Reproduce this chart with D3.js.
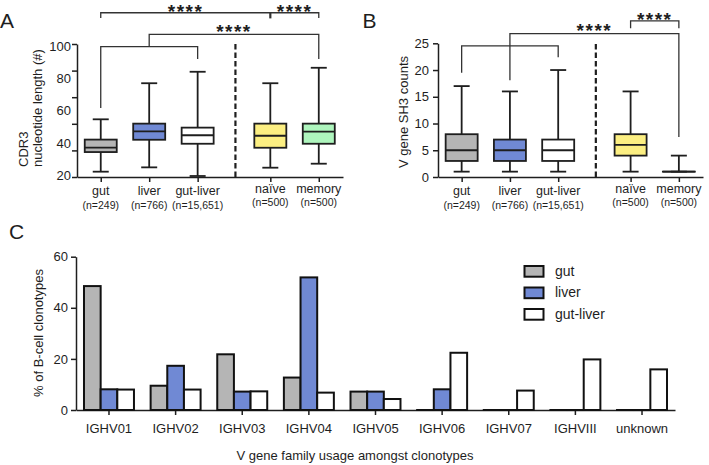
<!DOCTYPE html>
<html><head><meta charset="utf-8">
<script src="https://cdn.jsdelivr.net/npm/d3@7"></script>
<style>
body{margin:0;background:#fff;}
svg{display:block;font-family:"Liberation Sans",Arial,sans-serif;}
</style></head><body>
<svg id="c" width="709" height="465"></svg>
<script>
// ---------- data ----------
const boxGroups = ["gut", "liver", "gut-liver", "naïve", "memory"];
const boxN = ["(n=249)", "(n=766)", "(n=15,651)", "(n=500)", "(n=500)"];
// Panel A: CDR3 nucleotide length (box stats)
const cdr3Min    = [23.2, 25.8, 20.6, 25.6, 28.0];
const cdr3Q1     = [35.0, 42.4, 40.0, 37.6, 40.0];
const cdr3Median = [37.7, 47.5, 45.1, 44.8, 47.3];
const cdr3Q3     = [42.5, 52.1, 49.7, 52.1, 52.1];
const cdr3Max    = [54.7, 76.4, 83.3, 76.4, 85.7];
const cdr3TickMarks  = [20, 36, 52, 68, 84, 100];
const cdr3TickLabels = [20, 40, 60, 80, 100];
// Panel B: V gene SH3 counts (box stats)
const sh3Min    = [1, 1, 1, 1, 1];
const sh3Q1     = [3, 3, 3, 4, 1];
const sh3Median = [5, 5, 5, 6, 1];
const sh3Q3     = [8, 7, 7, 8, 1];
const sh3Max    = [17, 16, 20, 16, 4];
const sh3Ticks  = [0, 5, 10, 15, 20, 25];
// Panel C: V gene family usage
const families = ["IGHV01", "IGHV02", "IGHV03", "IGHV04", "IGHV05", "IGHV06", "IGHV07", "IGHVIII", "unknown"];
const tissues = ["gut", "liver", "gut-liver"];
const gutPct      = [48.5, 9.5, 21.8, 12.7, 7.2, 0, 0, 0, 0];
const liverPct    = [8.1, 17.3, 7.2, 51.9, 7.2, 8.1, 0, 0, 0];
const gutLiverPct = [8.0, 8.0, 7.3, 6.8, 4.3, 22.4, 7.6, 19.8, 15.9];
const pctTicks = [0, 20, 40, 60];

// ---------- drawing ----------
const svg = d3.select("#c");
const ink = "#1e1e1e";
const boxFill = ["#b5b5b5", "#7089d4", "#ffffff", "#fcef82", "#aef5bd"];
const tissueFill = ["#b5b5b5", "#7089d4", "#ffffff"];
const slot = i => i + (i >= 3 ? 0.5 : 0);

function styleAxis(sel, fs) {
  sel.selectAll("path.domain").attr("stroke", ink).attr("stroke-width", 1.5);
  sel.selectAll(".tick line").attr("stroke", ink).attr("stroke-width", 1.5);
  sel.selectAll(".tick text").attr("fill", ink).style("font-size", fs + "px")
    .style("font-family", '"Liberation Sans",Arial,sans-serif');
}

function boxPanel(xr, y, st) {
  const x = d3.scaleLinear().domain([-0.49, 5.0]).range(xr);
  const g = svg.append("g");
  const y0 = y.range()[0];
  const xa = g.append("g").attr("transform", `translate(0,${y0})`)
    .call(d3.axisBottom(x).tickValues(boxGroups.map((d, i) => slot(i))).tickFormat("").tickSize(5).tickSizeOuter(0));
  styleAxis(xa, 13);
  // dashed separator
  g.append("line").attr("x1", x(2.78)).attr("x2", x(2.78))
    .attr("y1", y0).attr("y2", y.range()[1] - 1)
    .attr("stroke", ink).attr("stroke-width", 2.2).attr("stroke-dasharray", "5.5,3");
  const rows = boxGroups.map((name, i) => ({i, name, min: st.min[i], q1: st.q1[i], med: st.med[i], q3: st.q3[i], max: st.max[i]}));
  const bw = 32, cw = 16;
  const grp = g.selectAll("g.box").data(rows).join("g").attr("class", "box")
    .attr("transform", d => `translate(${x(slot(d.i))},0)`);
  const ln = s => s.attr("stroke", ink).attr("stroke-width", 1.8);
  grp.append("line").attr("y1", d => y(d.min)).attr("y2", d => y(d.q1)).call(ln);
  grp.append("line").attr("y1", d => y(d.q3)).attr("y2", d => y(d.max)).call(ln);
  grp.append("line").attr("x1", -cw / 2).attr("x2", cw / 2).attr("y1", d => y(d.min)).attr("y2", d => y(d.min)).call(ln);
  grp.append("line").attr("x1", -cw / 2).attr("x2", cw / 2).attr("y1", d => y(d.max)).attr("y2", d => y(d.max)).call(ln);
  grp.append("rect").attr("x", -bw / 2).attr("width", bw)
    .attr("y", d => y(d.q3)).attr("height", d => Math.max(0.01, y(d.q1) - y(d.q3)))
    .attr("fill", d => boxFill[d.i]).call(ln);
  grp.append("line").attr("x1", -bw / 2).attr("x2", bw / 2).attr("y1", d => y(d.med)).attr("y2", d => y(d.med)).call(ln);
  // category labels
  grp.append("text").attr("text-anchor", "middle").attr("y", d => y0 + 18 - (d.i >= 3 ? 2 : 0))
    .attr("fill", ink).style("font-size", "12.5px").text(d => d.name);
  grp.append("text").attr("text-anchor", "middle").attr("y", d => y0 + 32 - (d.i >= 3 ? 3 : 0))
    .attr("fill", ink).style("font-size", "10.5px").text((d) => boxN[d.i]);
  return {x, g};
}

function bracket(p, x, y, pts, w) {
  p.g.append("path").attr("d", d3.line().x(d => x(d[0])).y(d => y(d[1]))(pts))
    .attr("fill", "none").attr("stroke", "#333").attr("stroke-width", w || 1.3);
}
function stars(p, x, y, s, v, dy) {
  p.g.append("text").attr("x", x(s)).attr("y", y(v) + dy).attr("text-anchor", "middle")
    .attr("fill", ink).style("font-size", "19px").style("font-weight", "bold")
    .style("letter-spacing", "1.5px").text("****");
}

// ---- Panel A ----
const yA = d3.scaleLinear().domain([20, 100]).range([177, 44]);
const yALabel = d3.scaleLinear().domain([20, 100]).range([175, 46.5]);
const pA = boxPanel([77, 343], yA, {min: cdr3Min, q1: cdr3Q1, med: cdr3Median, q3: cdr3Q3, max: cdr3Max});
const yaA = pA.g.append("g").attr("transform", "translate(77,0)")
  .call(d3.axisLeft(yA).tickValues(cdr3TickMarks).tickFormat("").tickSize(5).tickSizeOuter(0));
styleAxis(yaA, 13);
const ylA = pA.g.append("g").attr("transform", "translate(77,0)")
  .call(d3.axisLeft(yALabel).tickValues(cdr3TickLabels).tickSize(0).tickPadding(6));
ylA.select("path.domain").remove();
styleAxis(ylA, 13);
bracket(pA, pA.x, yA, [[0, 115.6], [0, 118.8], [4.5, 118.8], [4.5, 115.6]]);
bracket(pA, pA.x, yA, [[3.5, 118.8], [3.5, 115.4]], 2.2);
bracket(pA, pA.x, yA, [[0, 61.5], [0, 98.4], [2, 98.4], [2, 91]]);
bracket(pA, pA.x, yA, [[1, 98.4], [1, 105.8], [4.5, 105.8], [4.5, 91]]);
stars(pA, pA.x, yA, 1.75, 118.8, 5);
stars(pA, pA.x, yA, 4.0, 118.8, 5);
stars(pA, pA.x, yA, 2.75, 105.8, 4);
const tA = pA.g.append("g").attr("fill", ink).style("font-size", "13px");
tA.append("text").attr("transform", "translate(27.5,167) rotate(-90)").text("CDR3");
tA.append("text").attr("transform", "translate(42,167) rotate(-90)").text("nucleotide length (#)");

// ---- Panel B ----
const yB = d3.scaleLinear().domain([0, 25]).range([177, 43.3]);
const pB = boxPanel([438, 703], yB, {min: sh3Min, q1: sh3Q1, med: sh3Median, q3: sh3Q3, max: sh3Max});
const yaB = pB.g.append("g").attr("transform", "translate(438,0)")
  .call(d3.axisLeft(yB).tickValues(sh3Ticks).tickSize(5).tickPadding(4).tickSizeOuter(0));
styleAxis(yaB, 13);
bracket(pB, pB.x, yB, [[0, 19.5], [0, 24.5], [2, 24.5], [2, 22.4]]);
bracket(pB, pB.x, yB, [[1, 18.1], [1, 26.8], [4.5, 26.8], [4.5, 7.5]]);
bracket(pB, pB.x, yB, [[3.5, 27.8], [3.5, 29.2], [4.5, 29.2], [4.5, 27.8]]);
stars(pB, pB.x, yB, 2.75, 26.8, 3.5);
stars(pB, pB.x, yB, 4.0, 29.2, 4.8);
pB.g.append("text").attr("transform", "translate(407.5,112) rotate(-90)").attr("text-anchor", "middle")
  .attr("fill", ink).style("font-size", "13px").text("V gene SH3 counts");

// ---- Panel C ----
const xC = d3.scaleBand().domain(families).range([76, 675]).paddingInner(0.25).paddingOuter(0.12);
const xSub = d3.scaleBand().domain(tissues).range([0, xC.bandwidth()]);
const yC = d3.scaleLinear().domain([0, 60]).range([410, 256.7]);
const gC = svg.append("g");
const series = [gutPct, liverPct, gutLiverPct];
const cells = [];
families.forEach((f, i) => tissues.forEach((t, j) => cells.push({f, t, j, v: series[j][i]})));
const xaC = gC.append("g").attr("transform", `translate(0,${yC(0)})`)
  .call(d3.axisBottom(xC).tickSize(5).tickPadding(9).tickSizeOuter(0));
styleAxis(xaC, 13);
gC.selectAll("rect.bar").data(cells).join("rect").attr("class", "bar")
  .attr("x", d => xC(d.f) + xSub(d.t)).attr("width", xSub.bandwidth())
  .attr("y", d => yC(d.v)).attr("height", d => Math.max(0.01, yC(0) - yC(d.v)))
  .attr("fill", d => tissueFill[d.j]).attr("stroke", "#111").attr("stroke-width", 2);
const yaC = gC.append("g").attr("transform", "translate(76,0)")
  .call(d3.axisLeft(yC).tickValues(pctTicks).tickSize(5).tickPadding(3).tickSizeOuter(0));
styleAxis(yaC, 13);
gC.append("text").attr("x", 355).attr("y", 460).attr("text-anchor", "middle")
  .attr("fill", ink).style("font-size", "13px").text("V gene family usage amongst clonotypes");
gC.append("text").attr("transform", "translate(42.5,333) rotate(-90)").attr("text-anchor", "middle")
  .attr("fill", ink).style("font-size", "13px").text("% of B-cell clonotypes");
// legend
const leg = gC.selectAll("g.leg").data(tissues).join("g").attr("class", "leg")
  .attr("transform", (d, i) => `translate(524.5,${266 + i * 21.5})`);
leg.append("rect").attr("width", 19).attr("height", 10.7)
  .attr("fill", (d, i) => tissueFill[i]).attr("stroke", "#111").attr("stroke-width", 2);
leg.append("text").attr("x", 30.5).attr("y", 9.5).attr("fill", ink).style("font-size", "14px").text(d => d);

// panel letters
svg.append("g").attr("fill", ink).style("font-size", "21px").selectAll("text")
  .data([["A", 0, 28], ["B", 362.5, 28], ["C", 9, 239]]).join("text")
  .attr("x", d => d[1]).attr("y", d => d[2]).text(d => d[0]);
</script>
</body></html>
